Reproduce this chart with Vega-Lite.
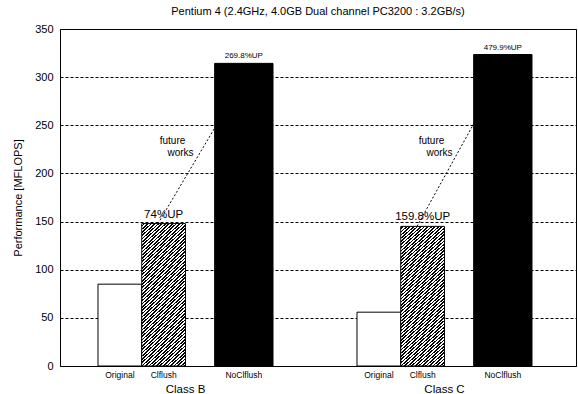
{
"$schema":"https://vega.github.io/schema/vega-lite/v6.json",
"width":516,"height":337,
"autosize":{"type":"none"},
"padding":{"left":60,"top":29,"right":2,"bottom":28},
"background":"white",
"config":{"font":"Liberation Sans","view":{"stroke":"black","strokeWidth":1},
"axis":{"domain":false,"ticks":false,"tickSize":0,"labelColor":"black","titleColor":"black","labelFont":"Liberation Sans","titleFont":"Liberation Sans","titleFontWeight":"normal"}},
"title":{"text":"Pentium 4 (2.4GHz, 4.0GB Dual channel PC3200 : 3.2GB/s)","fontSize":11,"fontWeight":"normal","color":"black","anchor":"middle","baseline":"alphabetic","offset":-3,"font":"Liberation Sans"},
"datasets":{
"perf":[
{"class":"Class B","config":"Original","mflops":85.0,"note":""},
{"class":"Class B","config":"Clflush","mflops":147.9,"note":"74%UP"},
{"class":"Class B","config":"NoClflush","mflops":314.3,"note":"269.8%UP"},
{"class":"Class C","config":"Original","mflops":55.9,"note":""},
{"class":"Class C","config":"Clflush","mflops":145.0,"note":"159.8%UP"},
{"class":"Class C","config":"NoClflush","mflops":323.5,"note":"479.9%UP"}],
"remarks":[
{"class":"Class B","word":"future","mflops":233.7},
{"class":"Class B","word":"works","mflops":221.2},
{"class":"Class C","word":"future","mflops":233.7},
{"class":"Class C","word":"works","mflops":221.2}]},
"encoding":{
"x":{"field":"class","type":"nominal","scale":{"domain":["Class B","Class C"],"paddingInner":0.3243,"paddingOuter":0.1583,"align":0.4634},
"axis":{"title":null,"labelAngle":0,"labelFontSize":11.5,"labelBaseline":"alphabetic","labelPadding":26,"grid":false}},
"y":{"field":"mflops","type":"quantitative","scale":{"domain":[0,350],"nice":false,"zero":true},
"axis":{"title":"Performance [MFLOPS]","values":[0,50,100,150,200,250,300,350],"labelFontSize":11,"titleFontSize":11,"labelPadding":7,"titleX":-42,"titleBaseline":"middle","grid":true,"gridColor":"black","gridDash":[3,2],"gridOpacity":1,"gridWidth":1}}},
"layer":[
{"data":{"name":"perf"},"transform":[{"filter":"datum.config !== 'Original'"}],
"mark":{"type":"line","color":"black","strokeWidth":1,"strokeDash":[2,2]},
"encoding":{"xOffset":{"field":"config","type":"nominal","scale":{"type":"point","domain":["Clflush","NoClflush"],"padding":0.421,"align":0.75}},"detail":{"field":"class"}}},
{"data":{"name":"perf"},"transform":[{"filter":"datum.config === 'Original' || datum.config === 'Clflush'"}],
"encoding":{"xOffset":{"field":"config","type":"nominal","scale":{"domain":["Original","Clflush"],"paddingInner":0,"paddingOuter":1.1875,"align":0}}},
"layer":[
{"transform":[{"filter":"datum.config === 'Original'"}],"mark":{"type":"bar","fill":"white","stroke":"black","strokeWidth":1}},
{"transform":[{"filter":"datum.config === 'Clflush'"}],"mark":{"type":"bar","stroke":"black","strokeWidth":1,"fill":{"gradient":"linear","x1":0,"y1":0,"x2":0.3336,"y2":1.187,"stops":[
{"offset":0,"color":"#fff"},
{"offset":0.0089,"color":"#fff"},{"offset":0.0089,"color":"#000"},
{"offset":0.0179,"color":"#000"},{"offset":0.0179,"color":"#fff"},
{"offset":0.0268,"color":"#fff"},{"offset":0.0268,"color":"#000"},
{"offset":0.0357,"color":"#000"},{"offset":0.0357,"color":"#fff"},
{"offset":0.0446,"color":"#fff"},{"offset":0.0446,"color":"#000"},
{"offset":0.0536,"color":"#000"},{"offset":0.0536,"color":"#fff"},
{"offset":0.0625,"color":"#fff"},{"offset":0.0625,"color":"#000"},
{"offset":0.0714,"color":"#000"},{"offset":0.0714,"color":"#fff"},
{"offset":0.0804,"color":"#fff"},{"offset":0.0804,"color":"#000"},
{"offset":0.0893,"color":"#000"},{"offset":0.0893,"color":"#fff"},
{"offset":0.0982,"color":"#fff"},{"offset":0.0982,"color":"#000"},
{"offset":0.1071,"color":"#000"},{"offset":0.1071,"color":"#fff"},
{"offset":0.1161,"color":"#fff"},{"offset":0.1161,"color":"#000"},
{"offset":0.125,"color":"#000"},{"offset":0.125,"color":"#fff"},
{"offset":0.1339,"color":"#fff"},{"offset":0.1339,"color":"#000"},
{"offset":0.1429,"color":"#000"},{"offset":0.1429,"color":"#fff"},
{"offset":0.1518,"color":"#fff"},{"offset":0.1518,"color":"#000"},
{"offset":0.1607,"color":"#000"},{"offset":0.1607,"color":"#fff"},
{"offset":0.1696,"color":"#fff"},{"offset":0.1696,"color":"#000"},
{"offset":0.1786,"color":"#000"},{"offset":0.1786,"color":"#fff"},
{"offset":0.1875,"color":"#fff"},{"offset":0.1875,"color":"#000"},
{"offset":0.1964,"color":"#000"},{"offset":0.1964,"color":"#fff"},
{"offset":0.2054,"color":"#fff"},{"offset":0.2054,"color":"#000"},
{"offset":0.2143,"color":"#000"},{"offset":0.2143,"color":"#fff"},
{"offset":0.2232,"color":"#fff"},{"offset":0.2232,"color":"#000"},
{"offset":0.2321,"color":"#000"},{"offset":0.2321,"color":"#fff"},
{"offset":0.2411,"color":"#fff"},{"offset":0.2411,"color":"#000"},
{"offset":0.25,"color":"#000"},{"offset":0.25,"color":"#fff"},
{"offset":0.2589,"color":"#fff"},{"offset":0.2589,"color":"#000"},
{"offset":0.2679,"color":"#000"},{"offset":0.2679,"color":"#fff"},
{"offset":0.2768,"color":"#fff"},{"offset":0.2768,"color":"#000"},
{"offset":0.2857,"color":"#000"},{"offset":0.2857,"color":"#fff"},
{"offset":0.2946,"color":"#fff"},{"offset":0.2946,"color":"#000"},
{"offset":0.3036,"color":"#000"},{"offset":0.3036,"color":"#fff"},
{"offset":0.3125,"color":"#fff"},{"offset":0.3125,"color":"#000"},
{"offset":0.3214,"color":"#000"},{"offset":0.3214,"color":"#fff"},
{"offset":0.3304,"color":"#fff"},{"offset":0.3304,"color":"#000"},
{"offset":0.3393,"color":"#000"},{"offset":0.3393,"color":"#fff"},
{"offset":0.3482,"color":"#fff"},{"offset":0.3482,"color":"#000"},
{"offset":0.3571,"color":"#000"},{"offset":0.3571,"color":"#fff"},
{"offset":0.3661,"color":"#fff"},{"offset":0.3661,"color":"#000"},
{"offset":0.375,"color":"#000"},{"offset":0.375,"color":"#fff"},
{"offset":0.3839,"color":"#fff"},{"offset":0.3839,"color":"#000"},
{"offset":0.3929,"color":"#000"},{"offset":0.3929,"color":"#fff"},
{"offset":0.4018,"color":"#fff"},{"offset":0.4018,"color":"#000"},
{"offset":0.4107,"color":"#000"},{"offset":0.4107,"color":"#fff"},
{"offset":0.4196,"color":"#fff"},{"offset":0.4196,"color":"#000"},
{"offset":0.4286,"color":"#000"},{"offset":0.4286,"color":"#fff"},
{"offset":0.4375,"color":"#fff"},{"offset":0.4375,"color":"#000"},
{"offset":0.4464,"color":"#000"},{"offset":0.4464,"color":"#fff"},
{"offset":0.4554,"color":"#fff"},{"offset":0.4554,"color":"#000"},
{"offset":0.4643,"color":"#000"},{"offset":0.4643,"color":"#fff"},
{"offset":0.4732,"color":"#fff"},{"offset":0.4732,"color":"#000"},
{"offset":0.4821,"color":"#000"},{"offset":0.4821,"color":"#fff"},
{"offset":0.4911,"color":"#fff"},{"offset":0.4911,"color":"#000"},
{"offset":0.5,"color":"#000"},{"offset":0.5,"color":"#fff"},
{"offset":0.5089,"color":"#fff"},{"offset":0.5089,"color":"#000"},
{"offset":0.5179,"color":"#000"},{"offset":0.5179,"color":"#fff"},
{"offset":0.5268,"color":"#fff"},{"offset":0.5268,"color":"#000"},
{"offset":0.5357,"color":"#000"},{"offset":0.5357,"color":"#fff"},
{"offset":0.5446,"color":"#fff"},{"offset":0.5446,"color":"#000"},
{"offset":0.5536,"color":"#000"},{"offset":0.5536,"color":"#fff"},
{"offset":0.5625,"color":"#fff"},{"offset":0.5625,"color":"#000"},
{"offset":0.5714,"color":"#000"},{"offset":0.5714,"color":"#fff"},
{"offset":0.5804,"color":"#fff"},{"offset":0.5804,"color":"#000"},
{"offset":0.5893,"color":"#000"},{"offset":0.5893,"color":"#fff"},
{"offset":0.5982,"color":"#fff"},{"offset":0.5982,"color":"#000"},
{"offset":0.6071,"color":"#000"},{"offset":0.6071,"color":"#fff"},
{"offset":0.6161,"color":"#fff"},{"offset":0.6161,"color":"#000"},
{"offset":0.625,"color":"#000"},{"offset":0.625,"color":"#fff"},
{"offset":0.6339,"color":"#fff"},{"offset":0.6339,"color":"#000"},
{"offset":0.6429,"color":"#000"},{"offset":0.6429,"color":"#fff"},
{"offset":0.6518,"color":"#fff"},{"offset":0.6518,"color":"#000"},
{"offset":0.6607,"color":"#000"},{"offset":0.6607,"color":"#fff"},
{"offset":0.6696,"color":"#fff"},{"offset":0.6696,"color":"#000"},
{"offset":0.6786,"color":"#000"},{"offset":0.6786,"color":"#fff"},
{"offset":0.6875,"color":"#fff"},{"offset":0.6875,"color":"#000"},
{"offset":0.6964,"color":"#000"},{"offset":0.6964,"color":"#fff"},
{"offset":0.7054,"color":"#fff"},{"offset":0.7054,"color":"#000"},
{"offset":0.7143,"color":"#000"},{"offset":0.7143,"color":"#fff"},
{"offset":0.7232,"color":"#fff"},{"offset":0.7232,"color":"#000"},
{"offset":0.7321,"color":"#000"},{"offset":0.7321,"color":"#fff"},
{"offset":0.7411,"color":"#fff"},{"offset":0.7411,"color":"#000"},
{"offset":0.75,"color":"#000"},{"offset":0.75,"color":"#fff"},
{"offset":0.7589,"color":"#fff"},{"offset":0.7589,"color":"#000"},
{"offset":0.7679,"color":"#000"},{"offset":0.7679,"color":"#fff"},
{"offset":0.7768,"color":"#fff"},{"offset":0.7768,"color":"#000"},
{"offset":0.7857,"color":"#000"},{"offset":0.7857,"color":"#fff"},
{"offset":0.7946,"color":"#fff"},{"offset":0.7946,"color":"#000"},
{"offset":0.8036,"color":"#000"},{"offset":0.8036,"color":"#fff"},
{"offset":0.8125,"color":"#fff"},{"offset":0.8125,"color":"#000"},
{"offset":0.8214,"color":"#000"},{"offset":0.8214,"color":"#fff"},
{"offset":0.8304,"color":"#fff"},{"offset":0.8304,"color":"#000"},
{"offset":0.8393,"color":"#000"},{"offset":0.8393,"color":"#fff"},
{"offset":0.8482,"color":"#fff"},{"offset":0.8482,"color":"#000"},
{"offset":0.8571,"color":"#000"},{"offset":0.8571,"color":"#fff"},
{"offset":0.8661,"color":"#fff"},{"offset":0.8661,"color":"#000"},
{"offset":0.875,"color":"#000"},{"offset":0.875,"color":"#fff"},
{"offset":0.8839,"color":"#fff"},{"offset":0.8839,"color":"#000"},
{"offset":0.8929,"color":"#000"},{"offset":0.8929,"color":"#fff"},
{"offset":0.9018,"color":"#fff"},{"offset":0.9018,"color":"#000"},
{"offset":0.9107,"color":"#000"},{"offset":0.9107,"color":"#fff"},
{"offset":0.9196,"color":"#fff"},{"offset":0.9196,"color":"#000"},
{"offset":0.9286,"color":"#000"},{"offset":0.9286,"color":"#fff"},
{"offset":0.9375,"color":"#fff"},{"offset":0.9375,"color":"#000"},
{"offset":0.9464,"color":"#000"},{"offset":0.9464,"color":"#fff"},
{"offset":0.9554,"color":"#fff"},{"offset":0.9554,"color":"#000"},
{"offset":0.9643,"color":"#000"},{"offset":0.9643,"color":"#fff"},
{"offset":0.9732,"color":"#fff"},{"offset":0.9732,"color":"#000"},
{"offset":0.9821,"color":"#000"},{"offset":0.9821,"color":"#fff"},
{"offset":0.9911,"color":"#fff"},{"offset":0.9911,"color":"#000"},
{"offset":1,"color":"#000"}]}}},
{"mark":{"type":"text","fontSize":11.5,"baseline":"alphabetic","dy":-6,"color":"black"},"encoding":{"text":{"field":"note"}}},
{"mark":{"type":"text","fontSize":8.5,"baseline":"alphabetic","dy":12,"color":"black"},"encoding":{"y":{"datum":0},"text":{"field":"config"}}}]},
{"data":{"name":"perf"},"transform":[{"filter":"datum.config === 'NoClflush'"}],
"encoding":{"xOffset":{"field":"config","type":"nominal","scale":{"domain":["NoClflush"],"paddingInner":0,"paddingOuter":1.6875,"align":1}}},
"layer":[
{"mark":{"type":"bar","fill":"black","stroke":"black","strokeWidth":1}},
{"mark":{"type":"text","fontSize":8,"baseline":"alphabetic","dy":-5,"color":"black"},"encoding":{"text":{"field":"note"}}},
{"mark":{"type":"text","fontSize":8.5,"baseline":"alphabetic","dy":12,"color":"black"},"encoding":{"y":{"datum":0},"text":{"field":"config"}}}]},
{"data":{"name":"remarks"},
"layer":[
{"transform":[{"filter":"datum.word === 'future'"}],"mark":{"type":"text","fontSize":10,"baseline":"middle","dx":-13,"color":"black"},"encoding":{"text":{"field":"word"}}},
{"transform":[{"filter":"datum.word === 'works'"}],"mark":{"type":"text","fontSize":10,"baseline":"middle","dx":-5,"color":"black"},"encoding":{"text":{"field":"word"}}}]}
],
"resolve":{"scale":{"xOffset":"independent"}}
}
